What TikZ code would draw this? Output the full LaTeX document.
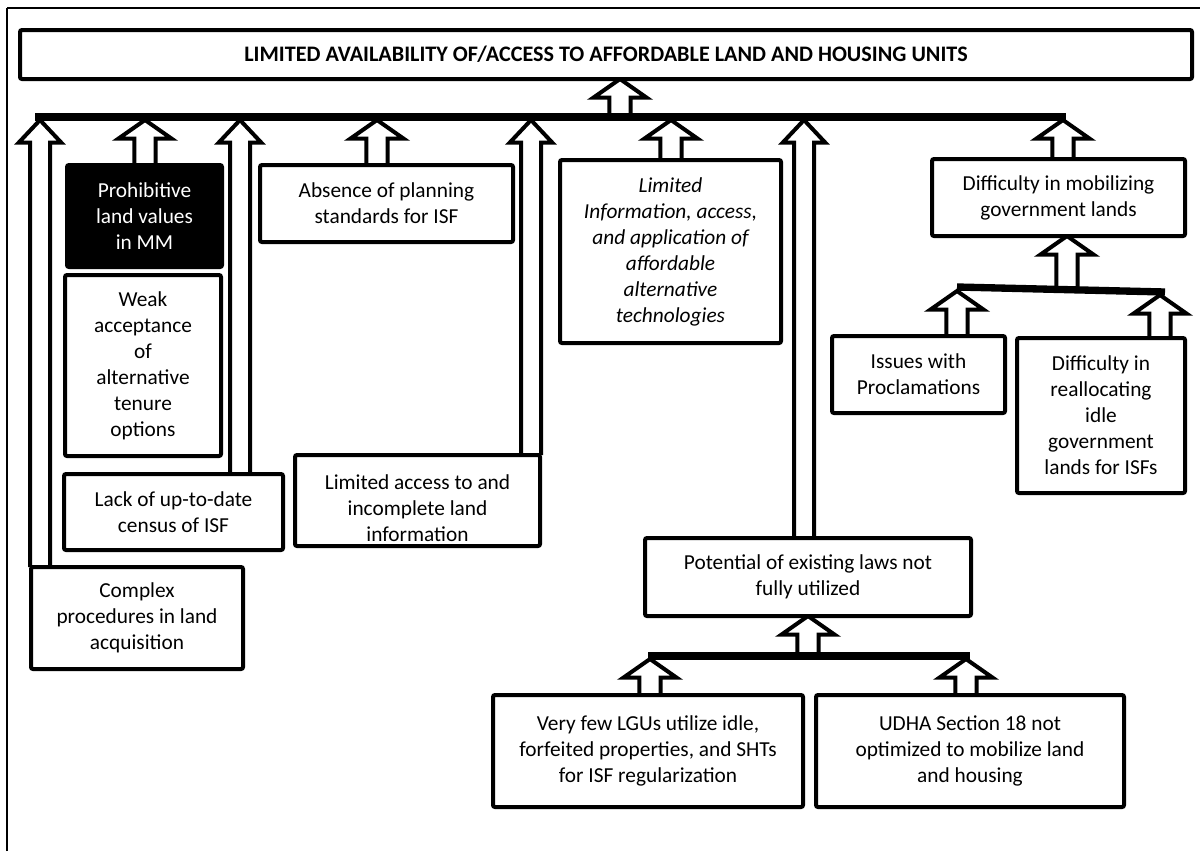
\documentclass[tikz,border=0pt]{standalone}
\usepackage{fontspec}
\setmainfont{Carlito}
\usetikzlibrary{calc}

\newcommand{\bodytext}{\fontsize{16}{19.5}\selectfont}
\newcommand{\headtext}{\fontsize{16.6}{19.5}\selectfont\bfseries}
\pgfdeclarelayer{arrows}
\pgfdeclarelayer{bars}
\pgfsetlayers{arrows,main,bars}

% hollow block arrow pointing up: #1 foot, #2 tip, #3 half shaft, #4 half head, #5 head length
\newcommand{\upblock}[5]{%
  \path[blockarr] let \p1=(#1), \p2=(#2) in
    (\x1-#3,\y1) -- (\x1-#3,\y2-#5) -- (\x1-#4,\y2-#5) -- (\x1,\y2)
    -- (\x1+#4,\y2-#5) -- (\x1+#3,\y2-#5) -- (\x1+#3,\y1);}
\newcommand{\longup}[2]{\upblock{#1}{#2}{7.5pt}{16pt}{17pt}}
\newcommand{\shortup}[2]{\upblock{#1}{#2}{8pt}{20pt}{14pt}}

\begin{document}
\begin{tikzpicture}[x=0.75pt,y=-0.75pt,
  box/.style={draw, line width=3pt, rounded corners=1.5pt, inner sep=0pt,
    outer sep=0pt, align=center, fill=white, font=\bodytext},
  darkbox/.style={box, fill=black, text=white},
  boxtext/.style={inner sep=0pt, align=center, font=\bodytext},
  blockarr/.style={draw, line width=3pt, fill=white, line join=miter, miter limit=6},
  bar/.style={line width=5.5pt}]

\useasboundingbox (0,0) rectangle (1200,851);

% page frame
\draw[line width=2.2pt] (7,851) -- (7,8);
\draw[line width=1.2pt] (7,8) -- (1200,8);

% problem boxes (sizes in pt, centres in px)
\node[box, font=\headtext, minimum width=879pt, minimum height=36.75pt] (title)
  at (606,54.5) {LIMITED AVAILABILITY OF/ACCESS TO AFFORDABLE LAND AND HOUSING UNITS};

\node[darkbox, minimum width=116.25pt, minimum height=76.5pt] (prohib)
  at (144.5,216) {Prohibitive\\land values\\in MM};
\node[box, minimum width=117pt, minimum height=135.75pt] (weak)
  at (143,365.5) {Weak\\acceptance\\of\\alternative\\tenure\\options};
\node[box, minimum width=164.25pt, minimum height=57pt] (lack)
  at (173.5,512) {Lack of up-to-date\\census of ISF};
\node[box, minimum width=159pt, minimum height=76.5pt] (complex)
  at (137,618) {Complex\\procedures in land\\acquisition};

\node[box, minimum width=189.75pt, minimum height=57.75pt] (absence)
  at (386.5,203.5) {Absence of planning\\standards for ISF};
\node[box, minimum width=183.75pt, minimum height=68.25pt] (access)
  at (417.5,500.5) {};
\node[boxtext, yshift=-6pt] (accesstext) at (access.center)
  {Limited access to and\\incomplete land\\information};

\node[box, font=\bodytext\itshape, minimum width=165.75pt, minimum height=137.25pt] (info)
  at (670.5,251.5)
  {Limited\\Information, access,\\and application of\\affordable\\alternative\\technologies};

\node[box, minimum width=244.5pt, minimum height=58.5pt] (potential)
  at (808,577) {Potential of existing laws not\\fully utilized};
\node[box, minimum width=232.5pt, minimum height=84pt] (few)
  at (648,751) {Very few LGUs utilize idle,\\forfeited properties, and SHTs\\for ISF regularization};
\node[box, minimum width=231pt, minimum height=84pt] (udha)
  at (970,751) {UDHA Section 18 not\\optimized to mobilize land\\and housing};

\node[box, minimum width=189.75pt, minimum height=57.75pt] (mobil)
  at (1058.5,197.5) {Difficulty in mobilizing\\government lands};
\node[box, minimum width=129.75pt, minimum height=57.75pt] (issues)
  at (918.5,374.5) {Issues with\\Proclamations};
\node[box, minimum width=126pt, minimum height=116.25pt] (realloc)
  at (1101,415.5) {Difficulty in\\reallocating\\idle\\government\\lands for ISFs};

% bar end points and arrow positions
\coordinate (mbL) at (35,117);   \coordinate (mbR) at (1066,117);
\coordinate (pbL) at (648,656);  \coordinate (pbR) at (970,656);
\coordinate (dbL) at (957,287);  \coordinate (dbR) at (1165,292);

\coordinate (a0) at (620,117);
\coordinate (c1) at (40,120);
\coordinate (c2) at (145,120);
\coordinate (c3) at (240,120);
\coordinate (c4) at (377,120);
\coordinate (c5) at (531,120);
\coordinate (c6) at (671,120);
\coordinate (c7) at (804,120);
\coordinate (c8) at (1063,120);

\coordinate (d0) at (1067,289);
\coordinate (d1) at (957,291);
\coordinate (d2) at (1160,295);

\coordinate (p0) at (808,656);
\coordinate (p1) at (650,659);
\coordinate (p2) at (966,659);

\begin{pgfonlayer}{arrows}
  \shortup{a0}{a0 |- title.south}
  \longup{c1 |- complex.north}{c1}
  \shortup{c2 |- prohib.north}{c2}
  \longup{c3 |- lack.north}{c3}
  \shortup{c4 |- absence.north}{c4}
  \longup{c5 |- access.north}{c5}
  \shortup{c6 |- info.north}{c6}
  \longup{c7 |- potential.north}{c7}
  \shortup{c8 |- mobil.north}{c8}
  \shortup{d0}{d0 |- mobil.south}
  \shortup{d1 |- issues.north}{d1}
  \shortup{d2 |- realloc.north}{d2}
  \shortup{p0}{p0 |- potential.south}
  \shortup{p1 |- few.north}{p1}
  \shortup{p2 |- udha.north}{p2}
\end{pgfonlayer}

\begin{pgfonlayer}{bars}
  \draw[bar] (mbL) -- (mbR);
  \draw[bar] (pbL) -- (pbR);
  \draw[bar] (dbL) -- (dbR);
\end{pgfonlayer}
\end{tikzpicture}
\end{document}
